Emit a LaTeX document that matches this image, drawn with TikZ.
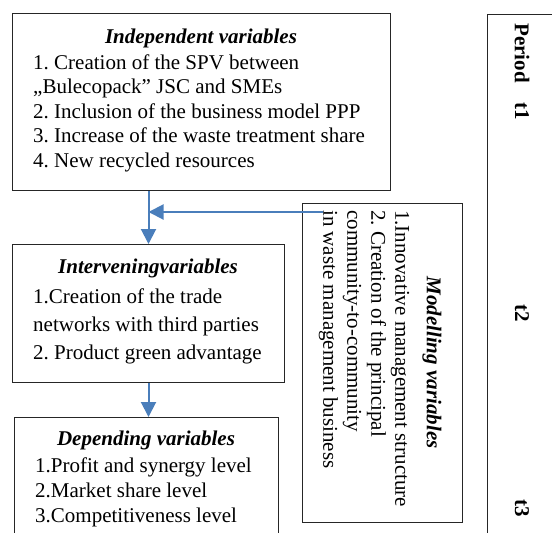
\documentclass[tikz,border=0pt]{standalone}
\usepackage{fontspec}
\setmainfont{Liberation Serif}
\usepackage{xcolor}
\usetikzlibrary{arrows.meta,positioning}
\definecolor{flowblue}{RGB}{74,126,187}
\tikzset{every node/.style={align=left}}
\frenchspacing

\begin{document}
\begin{tikzpicture}[x=1pt,y=-1pt,>={Triangle[length=15pt,width=15pt]},
  box/.style={rectangle,draw=black!85,line width=1pt,anchor=north west,inner sep=0pt},
  txt/.style={font=\fontsize{21pt}{#1}\selectfont,inner sep=0pt},
  txt/.default=24.5pt,
  hd/.style={font=\fontsize{21pt}{24pt}\selectfont\bfseries\itshape,inner sep=0pt},
  pd/.style={font=\fontsize{21pt}{24pt}\selectfont\bfseries,inner sep=0pt,rotate=-90},
  flow/.style={->,draw=flowblue,fill=flowblue,line width=2pt}]
\useasboundingbox (0,0) rectangle (552,533);
\clip (0,0) rectangle (552,533);

\node[box,minimum width=378pt,minimum height=177pt] (indep) at (12,13) {};
\node[hd] (indeptitle) at (201,38) {Independent variables};
\node[txt,anchor=north west] (indeplist) at (33,54.5) {1. Creation of the SPV between\\„Bulecopack” JSC and SMEs\\2. Inclusion of the business model PPP\\3. Increase of the waste treatment share\\4. New recycled resources};

\node[box,minimum width=272pt,minimum height=138pt] (interv) at (12,244) {};
\node[hd] (intervtitle) at (148,268) {Interveningvariables};
\node[txt=28pt,anchor=north west] (intervlist) at (33,288.5) {1.Creation of the trade\\networks with third parties\\2. Product green advantage};

\node[box,minimum width=264pt,minimum height=140pt] (depend) at (14,417) {};
\node[hd] (dependtitle) at (146,440) {Depending variables};
\node[txt=25pt,anchor=north west] (dependlist) at (35,457.5) {1.Profit and synergy level\\2.Market share level\\3.Competitiveness level};

\node[box,minimum width=160pt,minimum height=319pt] (model) at (302,203) {};
\node[hd,rotate=-90] (modeltitle) at (432,362.5) {Modelling variables};
\node[txt=24pt,rotate=-90,anchor=north west] (modellist) at (409.5,210) {1.Innovative management structure\\2. Creation of the principal\\community-to-community\\in waste management business};

\node[box,minimum width=100pt,minimum height=560pt] (period) at (487,14) {};
\node[pd] (periodlbl) at (522,53) {Period};
\node[pd] (tone) at (522,111) {t1};
\node[pd] (ttwo) at (522,313) {t2};
\node[pd] (tthree) at (522,508) {t3};

\coordinate (mfeed) at (323,212);
\draw[flow] (interv.north |- indep.south) -- (interv.north);
\draw[flow] (mfeed) -- (interv.north |- mfeed);
\draw[flow] (interv.south) -- (interv.south |- depend.north);

\end{tikzpicture}
\end{document}
